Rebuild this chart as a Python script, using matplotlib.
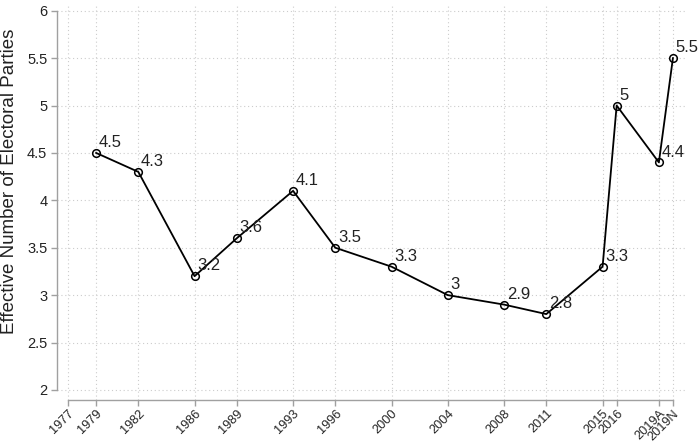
import matplotlib
matplotlib.use("Agg")
import matplotlib.pyplot as plt

plt.rcParams['font.family'] = ['Liberation Sans', 'DejaVu Sans']

tick_pos = [1977, 1979, 1982, 1986, 1989, 1993, 1996, 2000, 2004, 2008, 2011, 2015, 2016, 2019, 2020]
tick_labels = ["1977", "1979", "1982", "1986", "1989", "1993", "1996", "2000", "2004", "2008",
               "2011", "2015", "2016", "2019A", "2019N"]
x_vals = [1979, 1982, 1986, 1989, 1993, 1996, 2000, 2004, 2008, 2011, 2015, 2016, 2019, 2020]
enep = [4.5, 4.3, 3.2, 3.6, 4.1, 3.5, 3.3, 3.0, 2.9, 2.8, 3.3, 5.0, 4.4, 5.5]
point_labels = ["4.5", "4.3", "3.2", "3.6", "4.1", "3.5", "3.3", "3", "2.9", "2.8", "3.3", "5", "4.4", "5.5"]
y_ticks = [2, 2.5, 3, 3.5, 4, 4.5, 5, 5.5, 6]
y_tick_labels = ["2", "2.5", "3", "3.5", "4", "4.5", "5", "5.5", "6"]

W, H = 699, 442
fig = plt.figure(figsize=(W / 100, H / 100), dpi=100)
ax = fig.add_axes([57 / W, 1 - 400 / H, (687 - 57) / W, (400 - 5) / H])

ax.set_xlim(1976.22, 2021.0)
ax.set_ylim(1.894, 6.06)

ax.plot(x_vals, enep, color='black', lw=1.3, marker='o', ms=5.5,
        mfc='none', mec='black', mew=1.1, zorder=3)
for x, y, t in zip(x_vals, enep, point_labels):
    ax.annotate(t, (x, y), xytext=(2, 2), textcoords='offset points',
                ha='left', va='bottom', fontsize=12, color='#222222', zorder=4)

ax.set_xticks(tick_pos)
ax.set_xticklabels(tick_labels, rotation=45, ha='right', rotation_mode='anchor',
                   fontsize=9.2, color='#222222')
ax.set_yticks(y_ticks)
ax.set_yticklabels(y_tick_labels, fontsize=10.5, color='#222222')

ax.grid(True, color='#cccccc', ls=(0, (1, 2.5)), lw=0.8)
ax.set_axisbelow(True)

for s in ['top', 'right']:
    ax.spines[s].set_visible(False)
for s in ['left', 'bottom']:
    ax.spines[s].set_color('#a0a0a0')
    ax.spines[s].set_linewidth(1.0)
ax.spines['left'].set_bounds(2, 6)
ax.spines['bottom'].set_bounds(1977, 2020)
ax.tick_params(axis='both', colors='#a0a0a0', length=4, width=1.0, labelcolor='#222222')
ax.tick_params(axis='x', pad=1.5)
ax.tick_params(axis='y', pad=3)

ax.set_ylabel("Effective Number of Electoral Parties", fontsize=13.5, color='#222222')
ax.yaxis.set_label_coords(-0.062, 0.554)

fig.savefig("out.png", dpi=100)
